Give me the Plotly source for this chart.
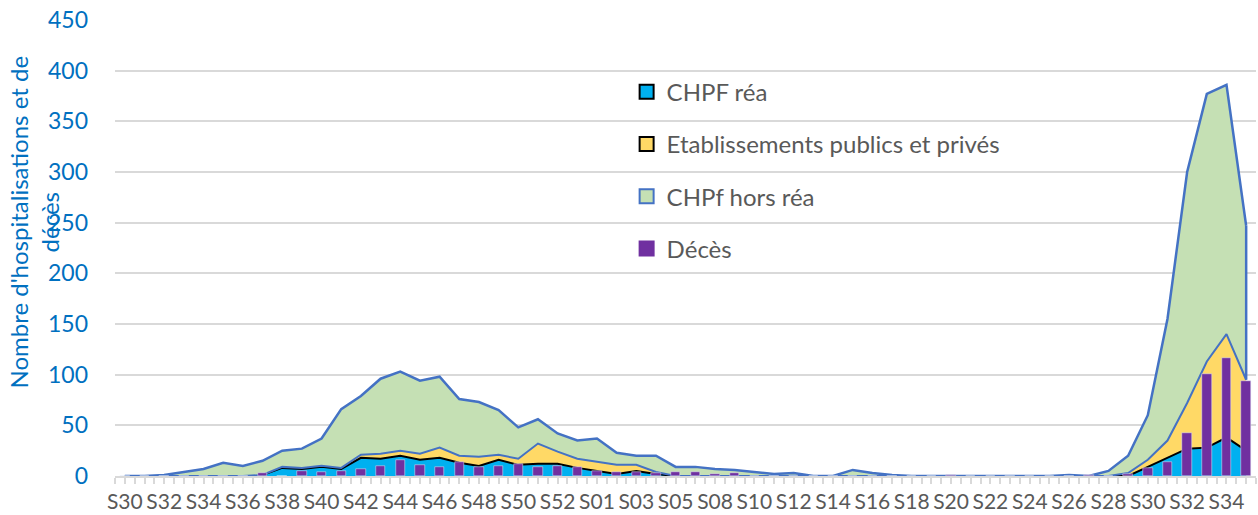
import plotly.graph_objects as go

# semaines (S30 2020 -> S35 2021)
semaines = ["S30", "S31", "S32", "S33", "S34", "S35", "S36", "S37", "S38", "S39",
            "S40", "S41", "S42", "S43", "S44", "S45", "S46", "S47", "S48", "S49",
            "S50", "S51", "S52", "S53", "S01", "S02", "S03", "S04", "S05", "S07",
            "S08", "S09", "S10", "S11", "S12", "S13", "S14", "S15", "S16", "S17",
            "S18", "S19", "S20", "S21", "S22", "S23", "S24", "S25", "S26", "S27",
            "S28", "S29", "S30", "S31", "S32", "S33", "S34", "S35"]

chpf_rea = [0, 0, 0, 0, 0, 0, 0, 1, 8, 7,
            9, 7, 18, 17, 20, 16, 18, 13, 10, 16,
            11, 12, 12, 8, 5, 2, 5, 2, 0, 0,
            0, 0, 0, 0, 0, 0, 0, 0, 0, 0,
            0, 0, 0, 0, 0, 0, 0, 0, 0, 0,
            0, 0, 9, 18, 27, 28, 38, 25]

etablissements = [0, 0, 0, 0, 0, 0, 0, 0, 1, 1,
                  1, 1, 3, 5, 5, 6, 10, 7, 9, 5,
                  6, 20, 12, 9, 9, 9, 6, 2, 0, 0,
                  0, 0, 0, 0, 0, 0, 0, 0, 0, 0,
                  0, 0, 0, 0, 0, 0, 0, 0, 0, 0,
                  0, 3, 7, 17, 45, 85, 102, 70]

chpf_hors_rea = [0, 0, 1, 4, 7, 13, 10, 14, 16, 19,
                 27, 58, 58, 74, 78, 72, 70, 56, 54, 44,
                 31, 24, 18, 18, 23, 12, 9, 16, 9, 9,
                 7, 6, 4, 2, 3, 0, 0, 6, 3, 1,
                 0, 0, 0, 0, 0, 0, 0, 0, 1, 0,
                 5, 17, 44, 120, 228, 264, 246, 152]

deces = [0, 0, 0, 0, 0, 0, 0, 3, 0, 5,
         4, 5, 7, 10, 16, 11, 9, 14, 9, 10,
         12, 9, 10, 9, 5, 4, 4, 3, 4, 4,
         2, 3, 0, 0, 0, 0, 0, 0, 0, 0,
         0, 0, 1, 0, 0, 0, 0, 0, 0, 1,
         0, 2, 8, 14, 42, 101, 116, 94]

x = list(range(len(semaines)))
bleu = '#0070C0'
gris = '#595959'
police = 'Lato'

fig = go.Figure()

# aires empilées
fig.add_trace(go.Scatter(
    x=x, y=chpf_rea, stackgroup='h', mode='lines',
    line=dict(color='black', width=2), fillcolor='#00B0F0', showlegend=False
))
fig.add_trace(go.Scatter(
    x=x, y=etablissements, stackgroup='h', mode='lines',
    line=dict(color='#4472C4', width=2), fillcolor='#FFD966', showlegend=False
))
fig.add_trace(go.Scatter(
    x=x, y=chpf_hors_rea, stackgroup='h', mode='lines',
    line=dict(color='#4472C4', width=2.5), fillcolor='#C5E0B4', showlegend=False
))

# bord droit de l'aire verte
bas = chpf_rea[-1] + etablissements[-1]
fig.add_trace(go.Scatter(
    x=[x[-1], x[-1]], y=[bas, bas + chpf_hors_rea[-1]], mode='lines',
    line=dict(color='#4472C4', width=2.5), showlegend=False
))

# décès (axe superposé pour passer devant les aires)
fig.add_trace(go.Bar(
    x=x, y=deces, marker_color='#7030A0', width=0.48,
    yaxis='y2', showlegend=False
))

# entrées de légende
legende = [
    ('CHPF réa', '#00B0F0', 'black'),
    ('Etablissements publics et privés', '#FFD966', 'black'),
    ('CHPf hors réa', '#C5E0B4', '#4472C4'),
    ('Décès', '#7030A0', '#7030A0'),
]
for nom, fond, bord in legende:
    fig.add_trace(go.Scatter(
        x=[None], y=[None], mode='markers', name=nom, legendgroup=nom,
        marker=dict(symbol='square', size=14, color=fond, line=dict(color=bord, width=2))
    ))

ticks = [i / 2 - 0.5 for i in range(2 * len(semaines) + 1)]
textes = []
for t in ticks:
    if t >= 0 and t == int(t) and int(t) % 2 == 0:
        textes.append(semaines[int(t)])
    else:
        textes.append('')

fig.update_layout(
    width=1258, height=515,
    margin=dict(l=115, r=2, t=20, b=39),
    plot_bgcolor='white', paper_bgcolor='white',
    font=dict(family=police, size=23, color=gris),
    xaxis=dict(
        range=[-0.5, 57.5], tickmode='array', tickvals=ticks, ticktext=textes,
        tickangle=0, automargin=False, ticklabelstandoff=0,
        ticks='outside', ticklen=6, tickcolor='#D9D9D9', tickwidth=1.5,
        showline=True, linecolor='#D9D9D9', linewidth=2,
        showgrid=False, zeroline=False,
        tickfont=dict(family=police, size=21, color=gris)
    ),
    yaxis=dict(
        range=[0, 450], dtick=50, showgrid=True, gridcolor='#D9D9D9', gridwidth=1.5,
        zeroline=False, showline=False, ticklabelstandoff=26, automargin=False,
        tickfont=dict(family=police, size=23, color=bleu)
    ),
    yaxis2=dict(range=[0, 450], overlaying='y', visible=False),
    legend=dict(
        x=0.4484, y=0.891, xanchor='left', yanchor='top',
        bgcolor='rgba(0,0,0,0)', tracegroupgap=18,
        font=dict(family=police, size=24, color=gris)
    ),
    annotations=[dict(
        text="Nombre d'hospitalisations et de<br>décès",
        textangle=-90, xref='paper', yref='paper',
        x=-0.0714, y=0.557, xanchor='center', yanchor='middle',
        showarrow=False, font=dict(family=police, size=24, color=bleu)
    )],
    bargap=0
)

fig.write_html("out.html", config={'displayModeBar': False},
               post_script="document.body.style.margin='0';")
